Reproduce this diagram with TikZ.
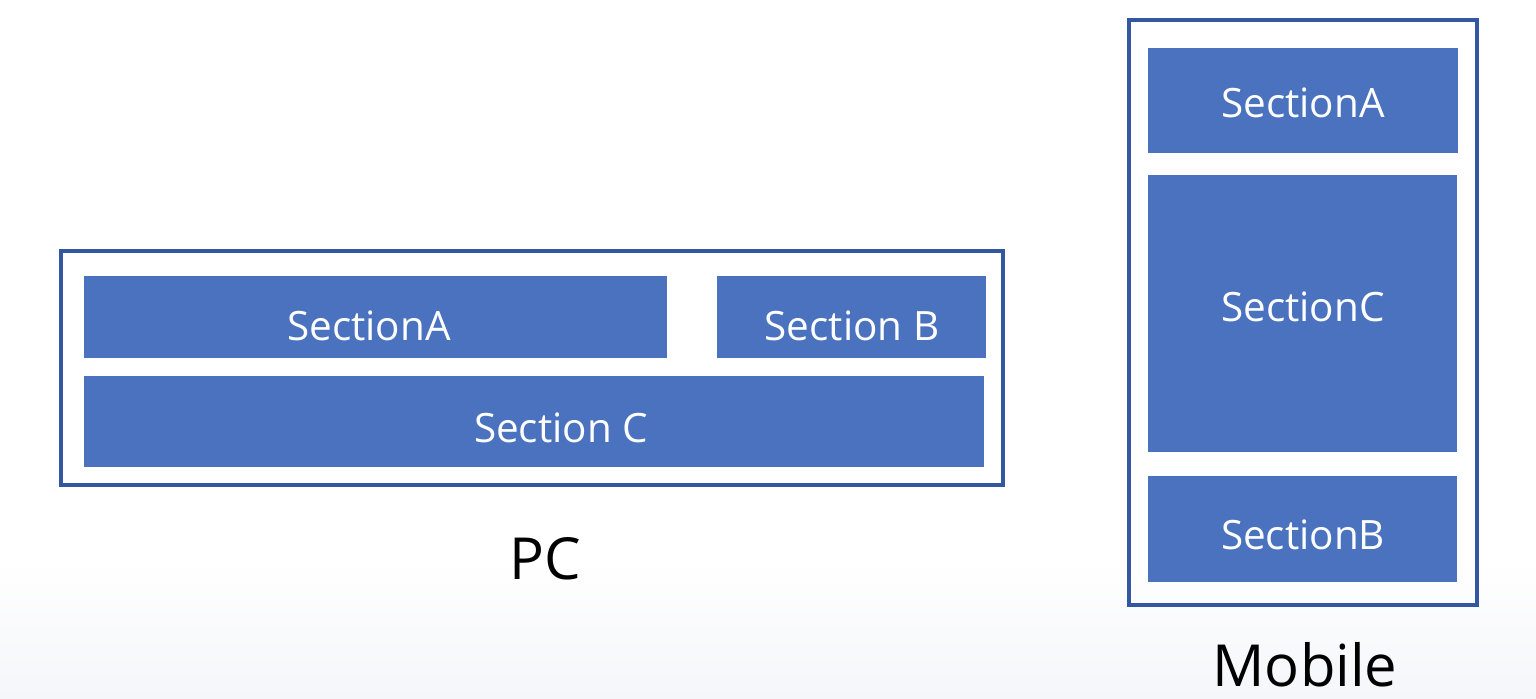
\documentclass[tikz,border=0pt]{standalone}
\usepackage{fontspec}
\setmainfont{Open Sans}
\definecolor{secblue}{HTML}{4A72BF}
\definecolor{framblue}{HTML}{3457A3}
\definecolor{bgbot}{HTML}{F5F6FA}

\begin{document}
\begin{tikzpicture}[
  frame/.style={draw=framblue, line width=0.9pt},
  sect/.style={fill=secblue},
  sectxt/.style={text=white, font=\fontsize{11.5}{14}\selectfont, inner sep=0pt},
  devtxt/.style={text=black, font=\fontsize{16.5}{19}\selectfont, inner sep=0pt}
]
\fill[white] (0,0) rectangle (15.36,-5.6);
\shade[top color=white, bottom color=bgbot] (0,-5.6) rectangle (15.36,-6.98);
\useasboundingbox (0,0) rectangle (15.36,-6.98);

%%% PC
\draw[frame] (0.61,-2.51) rectangle (10.03,-4.85);
\fill[sect] (0.84,-2.76) rectangle (6.67,-3.58);
\fill[sect] (7.17,-2.76) rectangle (9.86,-3.58);
\fill[sect] (0.84,-3.76) rectangle (9.84,-4.67);

\node[sectxt] (pcA) at (3.69,-3.26) {SectionA};
\node[sectxt] (pcB) at (8.52,-3.26) {Section B};
\node[sectxt] (pcC) at (5.61,-4.28) {Section C};
\node[devtxt] (pc) at (5.45,-5.59) {PC};

%%% Mobile
\draw[frame] (11.29,-0.20) rectangle (14.77,-6.05);
\fill[sect] (11.48,-0.48) rectangle (14.58,-1.53);
\fill[sect] (11.48,-1.75) rectangle (14.57,-4.52);
\fill[sect] (11.48,-4.76) rectangle (14.57,-5.82);

\node[sectxt] (moA) at (13.03,-1.03) {SectionA};
\node[sectxt] (moC) at (13.03,-3.07) {SectionC};
\node[sectxt] (moB) at (13.03,-5.35) {SectionB};
\node[devtxt] (mobile) at (13.05,-6.65) {Mobile};

\end{tikzpicture}
\end{document}
